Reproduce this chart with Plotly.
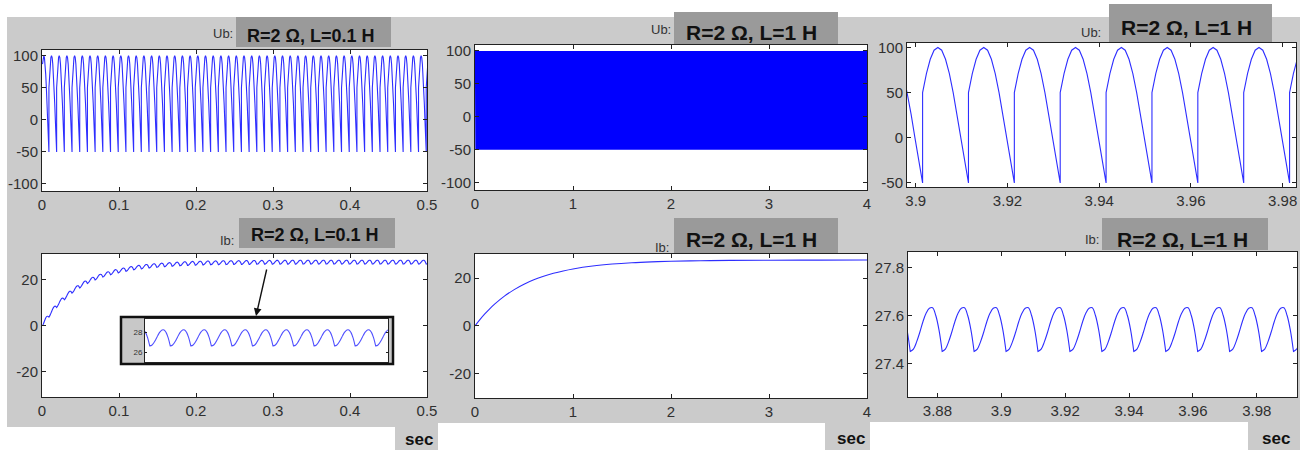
import numpy as np
import plotly.graph_objects as go

W, H = 1305, 450

# ---------------- data ----------------
PERIOD = 0.01  # s, period of the rectified output

# Ub over one period (V), 1/12-period steps starting at the firing instant
UB_PERIOD = [50, 71, 87, 97, 100, 97, 87, 71, 50, 26, 0, -26, -50]

# Ib ripple over one period (A), 1/10-period steps from the firing instant
IB_RIPPLE_L1 = [27.45, 27.46, 27.49, 27.53, 27.575, 27.61, 27.63, 27.632, 27.60, 27.54, 27.45]
IB_RIPPLE_L01 = [26.55, 26.62, 26.87, 27.24, 27.64, 27.98, 28.18, 28.18, 27.91, 27.37, 26.55]

# firing instants (mod one period)
FIRE_LEFT = 0.009
FIRE_RIGHT = 0.0015

# mean current build-up, L = 0.1 H (left panel)
ENV_T_L = [0, 0.005, 0.01, 0.015, 0.02, 0.03, 0.04, 0.05, 0.06, 0.07, 0.08, 0.09,
           0.10, 0.12, 0.14, 0.16, 0.18, 0.20, 0.23, 0.26, 0.30, 0.35, 0.40, 0.50]
ENV_I_L = [0, 2.6, 5.0, 7.15, 9.1, 12.4, 15.2, 17.4, 19.3, 20.8, 22.0, 23.0,
           23.8, 25.1, 25.9, 26.4, 26.8, 27.1, 27.3, 27.4, 27.5, 27.55, 27.55, 27.55]

# mean current build-up, L = 1 H (middle panel)
ENV_T_M = [0, 0.05, 0.1, 0.15, 0.2, 0.3, 0.4, 0.5, 0.6, 0.7, 0.8, 0.9, 1.0,
           1.2, 1.4, 1.6, 1.8, 2.0, 2.3, 2.6, 3.0, 3.5, 4.0]
ENV_I_M = [0, 2.62, 5.0, 7.15, 9.09, 12.44, 15.18, 17.43, 19.27, 20.77, 22.0, 23.01, 23.84,
           25.07, 25.89, 26.45, 26.82, 27.07, 27.29, 27.42, 27.5, 27.55, 27.56]

# axis ticks
UB_TICKS = [-100, -50, 0, 50, 100]
UB_TICKS_TR = [-50, 0, 50, 100]
IB_TICKS = [-20, 0, 20]
T_TICKS_L = [0, 0.1, 0.2, 0.3, 0.4, 0.5]
T_TICKS_M = [0, 1, 2, 3, 4]
T_TICKS_TR = [3.9, 3.92, 3.94, 3.96, 3.98]
T_TICKS_BR = [3.88, 3.9, 3.92, 3.94, 3.96, 3.98]
IB_TICKS_BR = [27.4, 27.6, 27.8]
INSET_TICKS = [26, 28]

TITLE_L = "R=2 Ω, L=0.1 H"
TITLE_R = "R=2 Ω, L=1 H"


def periodic(vals, t_start, t_end, phase):
    vals = np.asarray(vals, float)
    offs = np.linspace(0.0, PERIOD, len(vals))
    k0 = int(np.floor((t_start - phase) / PERIOD)) - 1
    k1 = int(np.ceil((t_end - phase) / PERIOD)) + 1
    starts = phase + PERIOD * np.arange(k0, k1 + 1)
    t = (starts[:, None] + offs[None, :]).ravel()
    y = np.tile(vals, len(starts))
    return t, y


# ---------------- build series ----------------
t_ub_l, ub_l = periodic(UB_PERIOD, 0.0, 0.5, FIRE_LEFT)
keep = t_ub_l >= 0
t_ub_l, ub_l = t_ub_l[keep], ub_l[keep]

t_ub_m, ub_m = periodic(UB_PERIOD, 0.0, 4.0, FIRE_LEFT)
keep = t_ub_m >= 0
t_ub_m, ub_m = t_ub_m[keep], ub_m[keep]

t_ub_r, ub_r = periodic(UB_PERIOD, 3.89, 3.99, FIRE_RIGHT)

t_ib_l, rip_l = periodic(IB_RIPPLE_L01, 0.0, 0.5, FIRE_LEFT)
keep = t_ib_l >= 0
t_ib_l, rip_l = t_ib_l[keep], rip_l[keep]
ib_l = np.interp(t_ib_l, ENV_T_L, ENV_I_L) + (rip_l - np.mean(IB_RIPPLE_L01[:-1]))
ib_l = np.maximum(ib_l, 0)

t_ib_r, ib_r = periodic(IB_RIPPLE_L1, 3.86, 4.0, FIRE_RIGHT)

# ---------------- layout helpers ----------------
def fx(x):
    return x / W


def fy(y):
    return 1 - y / H


FONT = "Liberation Sans, Arial, sans-serif"
TICKFONT = dict(family=FONT, size=15, color="#303030")
BLUE = "#2e2eff"


def axis(x0, x1, rng, tickvals, ticktext=None, horizontal=True, font=TICKFONT,
         showlabels=True, ticklen=4):
    if horizontal:
        dom = [fx(x0), fx(x1)]
    else:
        dom = [fy(x1), fy(x0)]
    return dict(domain=dom, range=rng, tickvals=tickvals,
                ticktext=ticktext if ticktext is not None else [str(v) for v in tickvals],
                ticks="inside", ticklen=ticklen, tickcolor="#222222", tickwidth=1,
                showline=True, linecolor="#222222", linewidth=1, mirror="ticks",
                showgrid=False, zeroline=False, tickfont=font, fixedrange=True,
                showticklabels=showlabels, automargin=False)


fig = go.Figure()

traces = [
    (t_ub_l, ub_l, "x", "y", "linear", BLUE),
    (t_ib_l, ib_l, "x2", "y2", "spline", BLUE),
    (t_ub_m, ub_m, "x3", "y3", "linear", "#0000ff"),
    (ENV_T_M, ENV_I_M, "x4", "y4", "spline", BLUE),
    (t_ub_r, ub_r, "x5", "y5", "linear", BLUE),
    (t_ib_r, ib_r, "x6", "y6", "spline", BLUE),
    (t_ib_l, ib_l, "x7", "y7", "spline", "#5050ff"),
]
for tx, ty, xa, ya, shape, col in traces:
    fig.add_trace(go.Scatter(x=tx, y=ty, mode="lines", xaxis=xa, yaxis=ya,
                             line=dict(color=col, width=1.1, shape=shape),
                             hoverinfo="skip", showlegend=False))

layout = dict(
    width=W, height=H, margin=dict(l=0, r=0, t=0, b=0, pad=0, autoexpand=False),
    paper_bgcolor="white", plot_bgcolor="white", showlegend=False,
    xaxis=axis(42, 427, [0, 0.5], T_TICKS_L),
    yaxis=axis(50, 191, [-111, 109], UB_TICKS, horizontal=False),
    xaxis2=axis(42, 427, [0, 0.5], T_TICKS_L),
    yaxis2=axis(254, 397, [-31, 31], IB_TICKS, horizontal=False),
    xaxis3=axis(475, 867, [0, 4], T_TICKS_M),
    yaxis3=axis(45, 190, [-111, 109], UB_TICKS, horizontal=False),
    xaxis4=axis(475, 867, [0, 4], T_TICKS_M),
    yaxis4=axis(254, 398, [-30.2, 30.1], IB_TICKS, horizontal=False),
    xaxis5=axis(907, 1296, [3.8981, 3.9829], T_TICKS_TR),
    yaxis5=axis(43, 187, [-54.5, 105], UB_TICKS_TR, horizontal=False),
    xaxis6=axis(908, 1297, [3.8708, 3.9926], T_TICKS_BR),
    yaxis6=axis(252, 397, [27.26, 27.865], IB_TICKS_BR, horizontal=False),
    xaxis7=axis(145, 388, [0.3767, 0.4950], [], showlabels=False, ticklen=0),
    yaxis7=axis(319, 362, [25.0, 29.4], INSET_TICKS, horizontal=False,
                font=dict(family=FONT, size=8, color="#333333"), ticklen=2),
)
for i in range(1, 8):
    sx = "" if i == 1 else str(i)
    layout["xaxis" + sx]["anchor"] = "y" + sx
    layout["yaxis" + sx]["anchor"] = "x" + sx

shapes = []


def rect(x0, y0, x1, y1, fill, line=None, lw=0):
    shapes.append(dict(type="rect", xref="paper", yref="paper", layer="below",
                       x0=fx(x0), x1=fx(x1), y0=fy(y1), y1=fy(y0),
                       fillcolor=fill,
                       line=dict(color=line or fill, width=lw)))


PANEL = "#cbcbcb"
TBOX = "#9a9a9a"
# panel backgrounds
rect(7, 17, 438, 427, PANEL)
rect(438, 17, 870, 423, PANEL)
rect(870, 17, 1300, 422, PANEL)
# "sec" boxes
rect(395, 427, 438, 450, PANEL)
rect(825, 423, 870, 450, PANEL)
rect(1248, 422, 1300, 450, PANEL)
# title boxes
rect(236, 17, 391, 47, TBOX)
rect(239, 218, 395, 248, TBOX)
rect(674, 12, 838, 45, TBOX)
rect(674, 218, 838, 253, TBOX)
rect(1109, 4, 1272, 42, TBOX)
rect(1102, 218, 1268, 250, TBOX)
# plot areas
rect(42, 50, 427, 191, "white")
rect(42, 254, 427, 397, "white")
rect(475, 45, 867, 190, "white")
rect(475, 254, 867, 398, "white")
rect(907, 43, 1296, 187, "white")
rect(908, 252, 1297, 397, "white")
# inset
rect(121, 317, 393, 364, "#c8c8c8", line="#111111", lw=2.5)
rect(145, 319, 388, 362, "white")

annotations = []


def text(x, y, s, size, bold=False, color="#111111", xanchor="center"):
    annotations.append(dict(x=fx(x), y=fy(y), xref="paper", yref="paper",
                            text=("<b>%s</b>" % s) if bold else s, showarrow=False,
                            xanchor=xanchor, yanchor="middle",
                            font=dict(family=FONT, size=size, color=color)))


text(311, 36, TITLE_L, 18, bold=True)
text(315, 235, TITLE_L, 18, bold=True)
text(752, 32, TITLE_R, 21, bold=True)
text(752, 239, TITLE_R, 21, bold=True)
text(1186, 28, TITLE_R, 21, bold=True)
text(1182, 239, TITLE_R, 21, bold=True)

text(235, 33, "Ub:", 13, color="#333333", xanchor="right")
text(236, 240, "Ib:", 13, color="#333333", xanchor="right")
text(673, 30, "Ub:", 13, color="#333333", xanchor="right")
text(671, 247, "Ib:", 13, color="#333333", xanchor="right")
text(1103, 32, "Ub:", 13, color="#333333", xanchor="right")
text(1101, 239, "Ib:", 13, color="#333333", xanchor="right")

text(419, 439, "sec", 17, bold=True)
text(851, 438, "sec", 17, bold=True)
text(1276, 438, "sec", 17, bold=True)

annotations.append(dict(x=fx(256), y=fy(316), xref="paper", yref="paper",
                        ax=11, ay=-48, text="", showarrow=True, arrowhead=2,
                        arrowsize=1.1, arrowwidth=1.4, arrowcolor="#111111"))

layout["shapes"] = shapes
layout["annotations"] = annotations
fig.update_layout(**layout)

fig.write_html("out.html",
               config={"displayModeBar": False, "staticPlot": True},
               post_script="document.body.style.margin='0';document.body.style.padding='0';"
                           "document.body.style.overflow='hidden';")
